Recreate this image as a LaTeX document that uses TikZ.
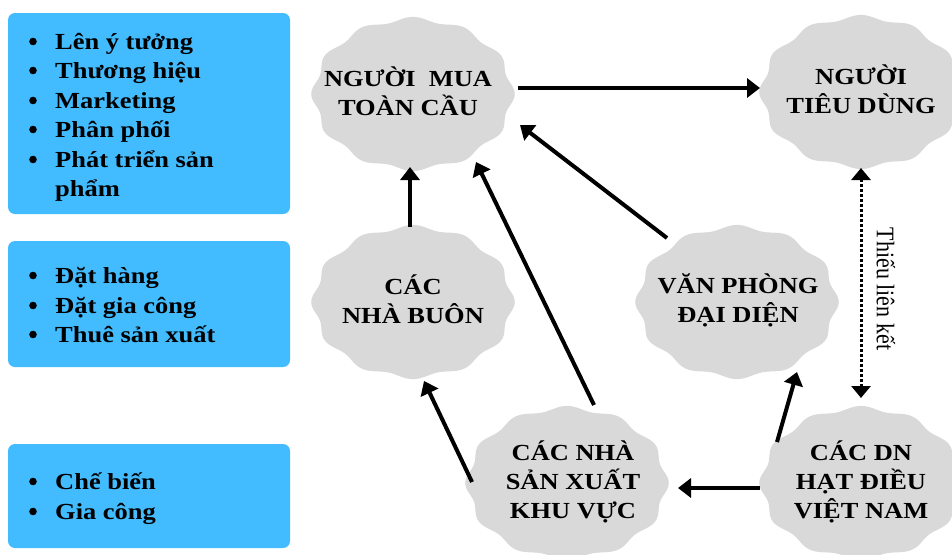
\documentclass[tikz,border=0pt]{standalone}
\usepackage{fontspec}
\setmainfont{Liberation Serif}
\newfontfamily\wfont{Liberation Serif}[FakeStretch=1.15]
\usetikzlibrary{arrows.meta,calc}
\definecolor{boxblue}{RGB}{66,188,255}
\definecolor{blobgray}{RGB}{217,217,217}
\tikzset{
  panel/.style={fill=boxblue, draw=none, rounded corners=7pt},
  itemtext/.style={anchor=base west, inner sep=0pt, font=\wfont\bfseries\fontsize{23}{29}\selectfont},
  bulletdot/.style={fill=black},
  blobtext/.style={align=center, inner sep=0pt, font=\wfont\bfseries\fontsize{23}{29}\selectfont},
  blobfill/.style={fill=blobgray},
  arr/.style={line width=4pt, -{Triangle[length=13pt,width=19pt]}},
  dotarr/.style={line width=3pt, dash pattern=on 3pt off 2pt,
    {Triangle[length=12pt,width=19pt]}-{Triangle[length=12pt,width=19pt]}},
  sidelabel/.style={rotate=-90, inner sep=0pt, font=\fontsize{22}{24}\selectfont},
}
\newcommand\blobat[1]{\fill[blobfill, shift={(#1)}] plot[domain=0:360, samples=241]
  ({99*(1+0.028*cos(12*\x))*cos(\x)}, {75*(1+0.028*cos(12*\x))*sin(\x)}) -- cycle;}
\begin{document}
\begin{tikzpicture}[x=1pt,y=-1pt]
\useasboundingbox (0,0) rectangle (952,554);
% left panels
\fill[panel] (8,13) rectangle (290,214);
\fill[panel] (8,241) rectangle (290,367);
\fill[panel] (8,444) rectangle (290,548);
% panel 1
\foreach \yb in {49,78,108,137,167} \fill[bulletdot] (33,\yb-7.5) circle (3.8);
\node[itemtext] (p1a) at (55,49) {Lên ý tưởng};
\node[itemtext] (p1b) at (55,78) {Thương hiệu};
\node[itemtext] (p1c) at (55,108) {Marketing};
\node[itemtext] (p1d) at (55,137) {Phân phối};
\node[itemtext] (p1e) at (55,167) {Phát triển sản};
\node[itemtext] (p1f) at (55,196) {phẩm};
% panel 2
\foreach \yb in {283,313,342} \fill[bulletdot] (33,\yb-7.5) circle (3.8);
\node[itemtext] (p2a) at (55,283) {Đặt hàng};
\node[itemtext] (p2b) at (55,313) {Đặt gia công};
\node[itemtext] (p2c) at (55,342) {Thuê sản xuất};
% panel 3
\foreach \yb in {489,519} \fill[bulletdot] (33,\yb-7.5) circle (3.8);
\node[itemtext] (p3a) at (55,489) {Chế biến};
\node[itemtext] (p3b) at (55,519) {Gia công};
% blobs
\coordinate (c1) at (413,94);
\coordinate (c2) at (861,92);
\coordinate (c3) at (413,302);
\coordinate (c4) at (737,302);
\coordinate (c5) at (567,483);
\coordinate (c6) at (861,483);
\blobat{c1}\blobat{c2}\blobat{c3}\blobat{c4}\blobat{c5}\blobat{c6}
\node[blobtext] (b1) at (408,91) {NGƯỜI\ \ MUA\\TOÀN CẦU};
\node[blobtext] (b2) at (861,89) {NGƯỜI\\TIÊU DÙNG};
\node[blobtext] (b3) at (413,299) {CÁC\\NHÀ BUÔN};
\node[blobtext] (b4) at (738,300) {VĂN PHÒNG\\ĐẠI DIỆN};
\node[blobtext] (b5) at (573,482) {CÁC NHÀ\\SẢN XUẤT\\KHU VỰC};
\node[blobtext] (b6) at (861,482) {CÁC DN\\HẠT ĐIỀU\\VIỆT NAM};
% arrows
\draw[arr] ($(c1)+(105,-6)$) -- ($(c2)+(-101,-4)$);
\draw[arr] ($(c3)+(-3,-75)$) -- ($(c1)+(-3,73)$);
\draw[arr] ($(c5)+(27,-78)$) -- ($(c1)+(63,68)$);
\draw[arr] ($(c4)+(-70,-64)$) -- ($(c1)+(107,31)$);
\draw[arr] ($(c5)+(-95,-1)$) -- ($(c3)+(11,79)$);
\draw[arr] ($(c6)+(-101,5)$) -- ($(c5)+(111,5)$);
\draw[arr] ($(c6)+(-84,-41)$) -- ($(c4)+(60,70)$);
\draw[dotarr] ($(c2)+(0,76)$) -- ($(c6)+(0,-85)$);
\node[sidelabel] (lbl) at (886,289) {\scalebox{1}[1.15]{Thiếu liên kết}};
\end{tikzpicture}
\end{document}
